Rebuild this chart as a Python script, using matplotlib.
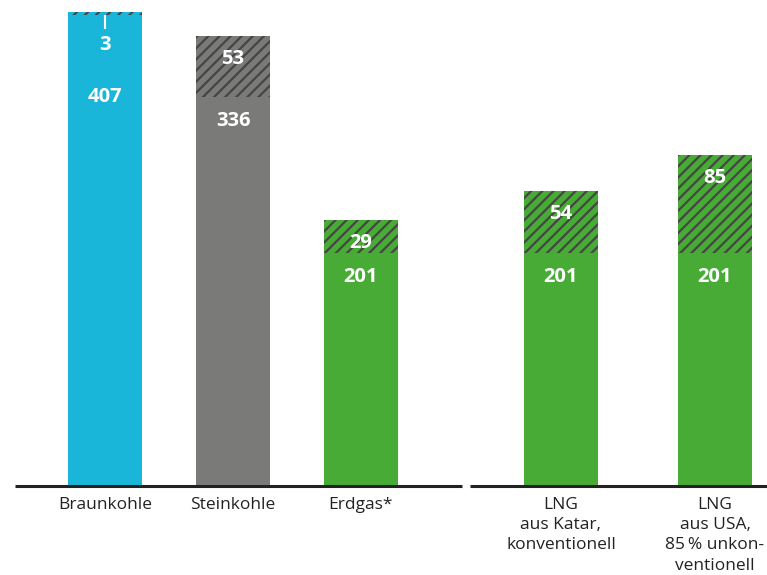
import numpy as np
import matplotlib; matplotlib.use("Agg")
import matplotlib.pyplot as plt

# emissions, base and upstream share per fuel
CATS = ["Braunkohle", "Steinkohle", "Erdgas*", "LNG\naus Katar,\nkonventionell", "LNG\naus USA,\n85\u2009% unkon-\nventionell"]
BASE = [407, 336, 201, 201, 201]
UPSTREAM = [3, 53, 29, 54, 85]
COLORS = ["#1ab6d9", "#7a7b79", "#47ab35", "#47ab35", "#47ab35"]

XPOS = [105, 233, 361, 561, 715]   # bar centres in pixel units
WIDTH = 74

plt.rcParams['font.family'] = ['Open Sans', 'DejaVu Sans']
plt.rcParams['hatch.linewidth'] = 1.6
plt.rcParams['hatch.color'] = "#454545"

fig = plt.figure(figsize=(7.67, 5.75), dpi=100)
ax = fig.add_axes([0, 89/575, 1, 486/575])
ax.set_xlim(0, 767); ax.set_ylim(0, 420)
ax.axis("off")

base = np.array(BASE); up = np.array(UPSTREAM)
ax.bar(XPOS, base, width=WIDTH, color=COLORS, linewidth=0)
ax.bar(XPOS, up, bottom=base, width=WIDTH, color=COLORS, linewidth=0, hatch="///")

lbl = dict(color="white", fontsize=14.5, fontweight="bold", ha="center", va="center",
           textcoords="offset pixels")
for i, (x, b, u) in enumerate(zip(XPOS, base, up)):
    if i == 0:
        # thin slice: label sits below with a pointer line
        ax.annotate(str(b), (x, b), xytext=(0, -82), **lbl)
        ax.annotate(str(u), (x, b + u), xytext=(0, -33), **lbl)
        ax.plot([x, x], [b + u - 4/1.16, b + u - 16/1.16], color="white", lw=1.5)
    else:
        ax.annotate(str(u), (x, b + u), xytext=(0, -23), **lbl)
        ax.annotate(str(b), (x, b), xytext=(0, -24), **lbl)

# baselines for the two groups
ax.plot([15, 462], [0, 0], color="#222222", lw=2.2, clip_on=False, solid_capstyle="butt")
ax.plot([470, 767], [0, 0], color="#222222", lw=2.2, clip_on=False, solid_capstyle="butt")

for x, c in zip(XPOS, CATS):
    ax.annotate(c, (x, 0), xytext=(0, -11), textcoords="offset pixels", ha="center", va="top",
                fontsize=12.5, color="#222222", linespacing=1.35)

fig.savefig("out.png", dpi=100)
